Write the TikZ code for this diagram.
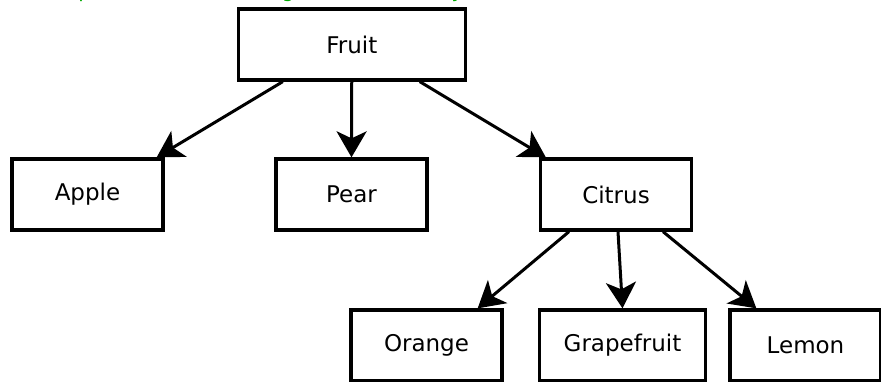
\documentclass[tikz,border=0pt]{standalone}
\usepackage{fontspec}
\setmainfont{DejaVu Sans}
\usetikzlibrary{arrows}
\usetikzlibrary{arrows.meta}
\usepackage{xcolor}
\definecolor{captiongreen}{RGB}{0,170,0}

\begin{document}
\begin{tikzpicture}[x=1pt,y=-1pt]
\tikzstyle{every node}=[font=\fontsize{23}{27}\selectfont]
\tikzstyle{box}=[draw,line width=3.3pt,minimum width=151pt,minimum height=71pt,inner xsep=24pt]
\tikzstyle{arr}=[line width=3pt,arrows={-Stealth[length=26pt,width=30pt,inset=7pt]}]
\useasboundingbox (0,0) rectangle (881,382);
\node[anchor=base west,inner sep=0pt,text=captiongreen,font=\fontsize{20}{24}\selectfont] (cap) at (22,-2.8) {Example (nodes are arranged in a hierarchy)};
\node[box,minimum width=227pt] (fruit) at (351.75,44.5) {Fruit};
\node[box] (apple) at (87.5,194.5) {Apple};
\node[box] (pear) at (351.5,194.5) {Pear};
\node[box] (citrus) at (616,194.5) {Citrus};
\node[box] (orange) at (426.5,345.5) {Orange};
\node[box] (grape) at (622.5,345.5) {Grapefruit};
\node[box] (lemon) at (805.5,345.5) {Lemon};
\path ([xshift=-69pt]fruit.south) edge [arr] ([xshift=-8pt]apple.north east);
\path (fruit.south) edge [arr] (pear.north);
\path ([xshift=68pt]fruit.south) edge [arr] ([xshift=7pt]citrus.north west);
\path ([xshift=-47pt]citrus.south) edge [arr] ([xshift=-26pt]orange.north east);
\path ([xshift=2pt]citrus.south) edge [arr] (grape.north);
\path ([xshift=47pt]citrus.south) edge [arr] ([xshift=28pt]lemon.north west);
\end{tikzpicture}
\end{document}
